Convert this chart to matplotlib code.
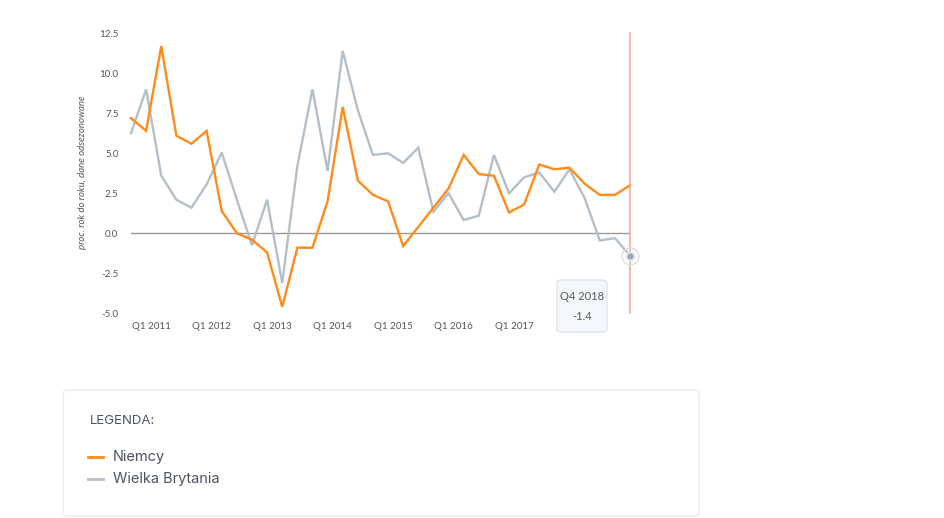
import matplotlib
matplotlib.use("Agg")
import matplotlib.pyplot as plt
import matplotlib.transforms as mtransforms
from matplotlib.patches import FancyBboxPatch
from matplotlib.lines import Line2D

# dane kwartalne Q3 2010 - Q4 2018
quarters = [f"Q{q} {y}" for y in range(2010, 2019) for q in range(1, 5)][2:]
niemcy = [7.2, 6.4, 11.7, 6.1, 5.6, 6.4, 1.4, 0.0, -0.4, -1.2,
          -4.6, -0.9, -0.9, 2.0, 7.9, 3.3, 2.4, 2.0, -0.8, 0.4,
          1.6, 2.8, 4.9, 3.7, 3.6, 1.3, 1.8, 4.3, 4.0, 4.1,
          3.1, 2.4, 2.4, 3.0]
wielka_brytania = [6.25, 9.0, 3.6, 2.1, 1.6, 3.05, 5.05, 2.1, -0.75, 2.1,
                   -3.1, 4.2, 9.0, 3.9, 11.4, 7.7, 4.9, 5.0, 4.4, 5.35,
                   1.35, 2.5, 0.83, 1.1, 4.9, 2.5, 3.5, 3.8, 2.6, 4.0,
                   2.2, -0.45, -0.3, -1.4]
yticks = [-5.0, -2.5, 0.0, 2.5, 5.0, 7.5, 10.0, 12.5]

ORANGE = "#ff8c1a"
GRAY = "#b4bfc7"
TXT = "#4d5360"

W, H = 945, 518
fig = plt.figure(figsize=(W / 100, H / 100), dpi=100)
fig.patch.set_facecolor("white")

ax = fig.add_axes([131 / W, 1 - 313.3 / H, 499 / W, 280 / H])
x = list(range(len(quarters)))
ax.plot(x, wielka_brytania, color=GRAY, lw=1.7, solid_joinstyle="miter", clip_on=False)
ax.plot(x, niemcy, color=ORANGE, lw=1.7, solid_joinstyle="miter", clip_on=False)
ax.axhline(0, color="#999999", lw=1.0, zorder=1)
ax.axvline(x[-1], color="#f6a48c", lw=1.1, zorder=3, clip_on=False)

# podswietlony ostatni punkt
ax.plot(x[-1], wielka_brytania[-1], "o", ms=12, mfc="none", mec="#d9dee2", mew=1.0,
        zorder=5, clip_on=False)
ax.plot(x[-1], wielka_brytania[-1], "o", ms=6, mfc="#9aa5ad", mec="#e6eaed", mew=1.5,
        zorder=6, clip_on=False)

ax.set_xlim(0, len(quarters) - 1)
ax.set_ylim(-5, 12.5)
for s in ax.spines.values():
    s.set_visible(False)

ax.set_yticks(yticks)
ax.set_yticklabels([f"{v:.1f}" for v in yticks])
q1 = [i for i, q in enumerate(quarters) if q.startswith("Q1") and i < len(quarters) - 4]
ax.set_xticks(q1)
ax.set_xticklabels([quarters[i] for i in q1])
ax.tick_params(length=0, labelsize=7, labelcolor="#555555")
ax.tick_params(axis="x", pad=6)
ax.tick_params(axis="y", pad=9)
for lab in ax.get_xticklabels() + ax.get_yticklabels():
    lab.set_family("Lato")
off = mtransforms.ScaledTranslation(-10 / 100, 0, fig.dpi_scale_trans)
for lab in ax.get_xticklabels():
    lab.set_transform(lab.get_transform() + off)

fig.text(83 / W, 1 - 172 / H, "proc. rok do roku, dane odsezonowane", rotation=90,
         ha="center", va="center", fontsize=6.9, style="italic", color="#555555",
         family="Lato")

# tooltip
fig.patches.append(FancyBboxPatch((557 / W, 1 - 332 / H), 50 / W, 52 / H,
                                  boxstyle="round,pad=0,rounding_size=0.005",
                                  transform=fig.transFigure, fc="#f4f7fb",
                                  ec="#dde5ee", lw=1.0, zorder=10))
fig.text(582 / W, 1 - 296 / H, quarters[-1], ha="center", va="center",
         fontsize=8, color="#555a60", family="Lato", zorder=11)
fig.text(582 / W, 1 - 317 / H, f"{wielka_brytania[-1]:.1f}", ha="center", va="center",
         fontsize=8, color="#555a60", family="Lato", zorder=11)

# legenda
fig.patches.append(FancyBboxPatch((63 / W, 2 / H), 636 / W, 126 / H,
                                  boxstyle="round,pad=0,rounding_size=0.006",
                                  transform=fig.transFigure, fc="white",
                                  ec="#ececec", lw=1.0))
fig.text(90 / W, 1 - 421 / H, "LEGENDA:", ha="left", va="center", fontsize=9.5,
         color=TXT, family="Inter")
for yy, name, col in [(457, "Niemcy", ORANGE), (479, "Wielka Brytania", GRAY)]:
    fig.lines.append(Line2D([88 / W, 103 / W], [1 - yy / H] * 2, color=col, lw=2,
                            transform=fig.transFigure))
    fig.text(113 / W, 1 - yy / H, name, ha="left", va="center", fontsize=10.5,
             color=TXT, family="Inter")

fig.savefig("out.png", dpi=100)
